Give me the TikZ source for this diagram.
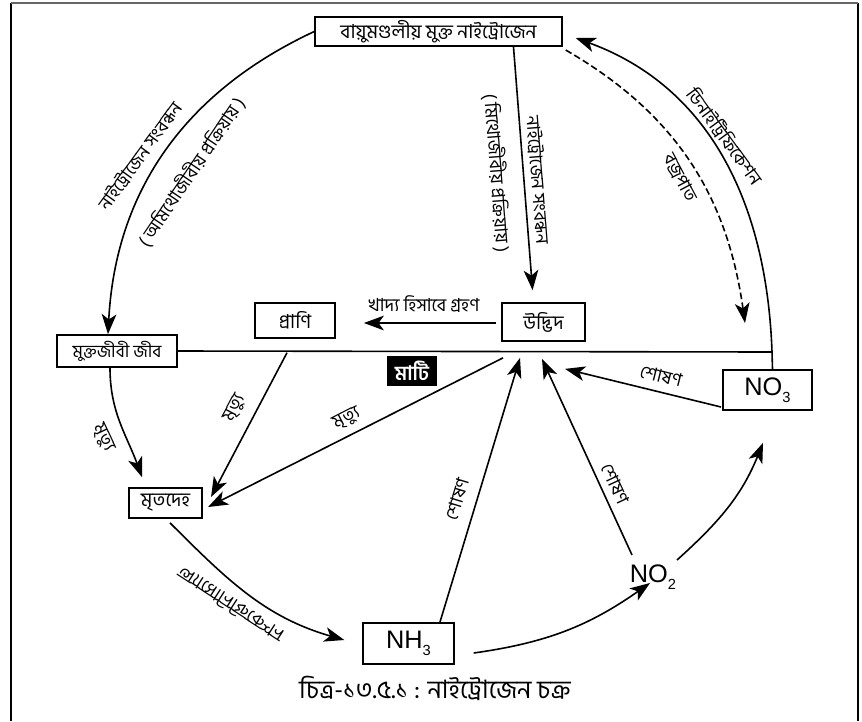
\documentclass[tikz,border=0pt]{standalone}
\usepackage{fontspec}
\setmainfont{Hind Siliguri}[Script=Bengali]
\newfontfamily\lat{Liberation Sans}
\usetikzlibrary{arrows.meta,calc}
\newcommand{\sbs}[1]{\raisebox{-0.5ex}{\fontsize{11}{11}\selectfont #1}}
\begin{document}
\begin{tikzpicture}[x=0.75pt,y=0.75pt,
  box/.style={draw, line width=1.3pt, inner sep=0pt, font=\fontsize{14.5}{16}\selectfont},
  chem/.style={font=\lat\fontsize{19}{21}\selectfont},
  lbl/.style={font=\fontsize{13.5}{15}\selectfont, inner sep=0.5pt},
  conn/.style={line width=1.2pt, -{Stealth[length=15pt,width=11pt,inset=4pt]}},
  plain/.style={line width=1.2pt}]
\useasboundingbox (0,0) rectangle (862,-721);
% frame
\draw[line width=1.6pt] (11,-721) -- (11,-3);
\draw[line width=1.8pt] (858,-3) -- (858,-721);
\draw[line width=1.1pt, black!60] (11,-3) -- (858,-3);

% nodes
\node[box, minimum width=185pt, minimum height=22pt] (top) at (438.5,-31.5) {বায়ুমণ্ডলীয় মুক্ত নাইট্রোজেন};
\node[box, minimum width=60pt, minimum height=26pt] (prani) at (295,-320.5) {প্রাণি};
\node[box, minimum width=62pt, minimum height=28.5pt] (plant) at (543.5,-322) {উদ্ভিদ};
\node[box, minimum width=90pt, minimum height=24pt, font=\fontsize{13}{14}\selectfont] (free) at (117,-351) {মুক্তজীবী জীব};
\node[box, minimum width=55pt, minimum height=22.5pt] (dead) at (165.5,-503) {মৃতদেহ};
\node[box, chem, minimum width=68pt, minimum height=31pt] (nh3) at (408.5,-643.5) {NH\sbs{3}};
\node[box, chem, minimum width=67pt, minimum height=30pt] (no3) at (767.5,-390) {NO\sbs{3}};
\node[chem, inner sep=1pt] (no2) at (653,-577) {NO\sbs{2}};
\node[fill=black, text=white, inner sep=0pt, minimum width=37.5pt, minimum height=23pt,
      font=\fontsize{15}{17}\selectfont\bfseries] (soil) at (412,-371) {মাটি};
\node[font=\fontsize{19}{21}\selectfont] (cap) at (435,-688) {চিত্র-১৩.৫.১ : নাইট্রোজেন চক্র};

% free ends
\coordinate (gr) at (772,-352);
\coordinate (bolt) at (745,-323);

% ground line
\draw[plain] (free.east) -- (gr);
\draw[plain] ($(no3.north)+(5,0)$) -- (gr);

% top to free-living (asymbiotic fixation)
\draw[conn] (top.west) to[out=205, in=87] ($(free.north)+(-9,0)$);
% top to plant (symbiotic fixation)
\draw[conn, shorten >=9pt] ($(top.south)+(75,0)$) -- ($(plant.north)+(-10,0)$);
% denitrification
\draw[conn] (gr) to[out=92, in=-20] ($(top.east)+(13,-6.5)$);
% lightning
\draw[conn, dash pattern=on 5pt off 2.5pt] ($(top.south east)+(3,-3)$) to[out=-30, in=98] (bolt);

% plant to animal
\draw[conn] ($(plant.west)+(-5,-1)$) -- ($(prani.east)+(28,-2.5)$);

% deaths
\draw[conn] ($(free.south)+(-7,0)$) to[out=-90, in=110] ($(dead.north)+(-23.5,10)$);
\draw[conn] ($(prani.south)+(-8,-14)$) -- ($(dead.east)+(8,6)$);
\draw[conn] ($(plant.south)+(-40.5,-16)$) -- ($(dead.east)+(5,-4)$);

% ammonification
\draw[conn] ($(dead.south)+(4.5,-4)$) to[out=-45, in=164] ($(nh3.west)+(-18,3.5)$);

% nitrification
\draw[conn] ($(nh3.east)+(19,-9.5)$) to[out=8, in=215] ($(no2)+(-3,-6)$);
\draw[conn] ($(no2)+(24,17)$) to[out=42, in=-112] ($(no3.south)+(-4.5,-32)$);

% absorption
\draw[conn] ($(nh3.north)+(31.5,0)$) -- ($(plant.south)+(-23.5,-16)$);
\draw[conn] ($(no2)+(-21,22)$) -- ($(plant.south)+(-1.5,-17)$);
\draw[conn] ($(no3.west)+(-1,-17)$) -- ($(plant.south)+(21.5,-27)$);

% labels
\node[lbl, rotate=54] (l1) at (140,-156) {নাইট্রোজেন সংবন্ধন};
\node[lbl, rotate=56] (l2) at (191,-172) {( অমিথোজীবীয় প্রক্রিয়ায় )};
\node[lbl, rotate=-85.5] (l3) at (538,-180) {নাইট্রোজেন সংবন্ধন};
\node[lbl, rotate=-85.5] (l4) at (497,-173) {( মিথোজীবীয় প্রক্রিয়ায় )};
\node[lbl, rotate=-54] (l5) at (725,-136) {ডিনাইট্রিফিকেশন};
\node[lbl, rotate=-62] (l6) at (680,-178) {বজ্রপাত};
\node[lbl] (l7) at (424,-304) {খাদ্য হিসাবে গ্রহণ};
\node[lbl, rotate=-14] (l8) at (661,-376) {শোষণ};
\node[lbl, rotate=-65] (l9) at (615,-484) {শোষণ};
\node[lbl, rotate=73] (l10) at (457,-499) {শোষণ};
\node[lbl, rotate=27] (l11) at (347,-419) {মৃত্যু};
\node[lbl, rotate=62] (l12) at (235,-408) {মৃত্যু};
\node[lbl, rotate=-65] (l13) at (103,-438) {মৃত্যু};
\node[lbl, rotate=-33] (l14) at (230,-605) {\scalebox{1}[-1]{অ্যামোনিফিকেশন}};
\end{tikzpicture}
\end{document}
